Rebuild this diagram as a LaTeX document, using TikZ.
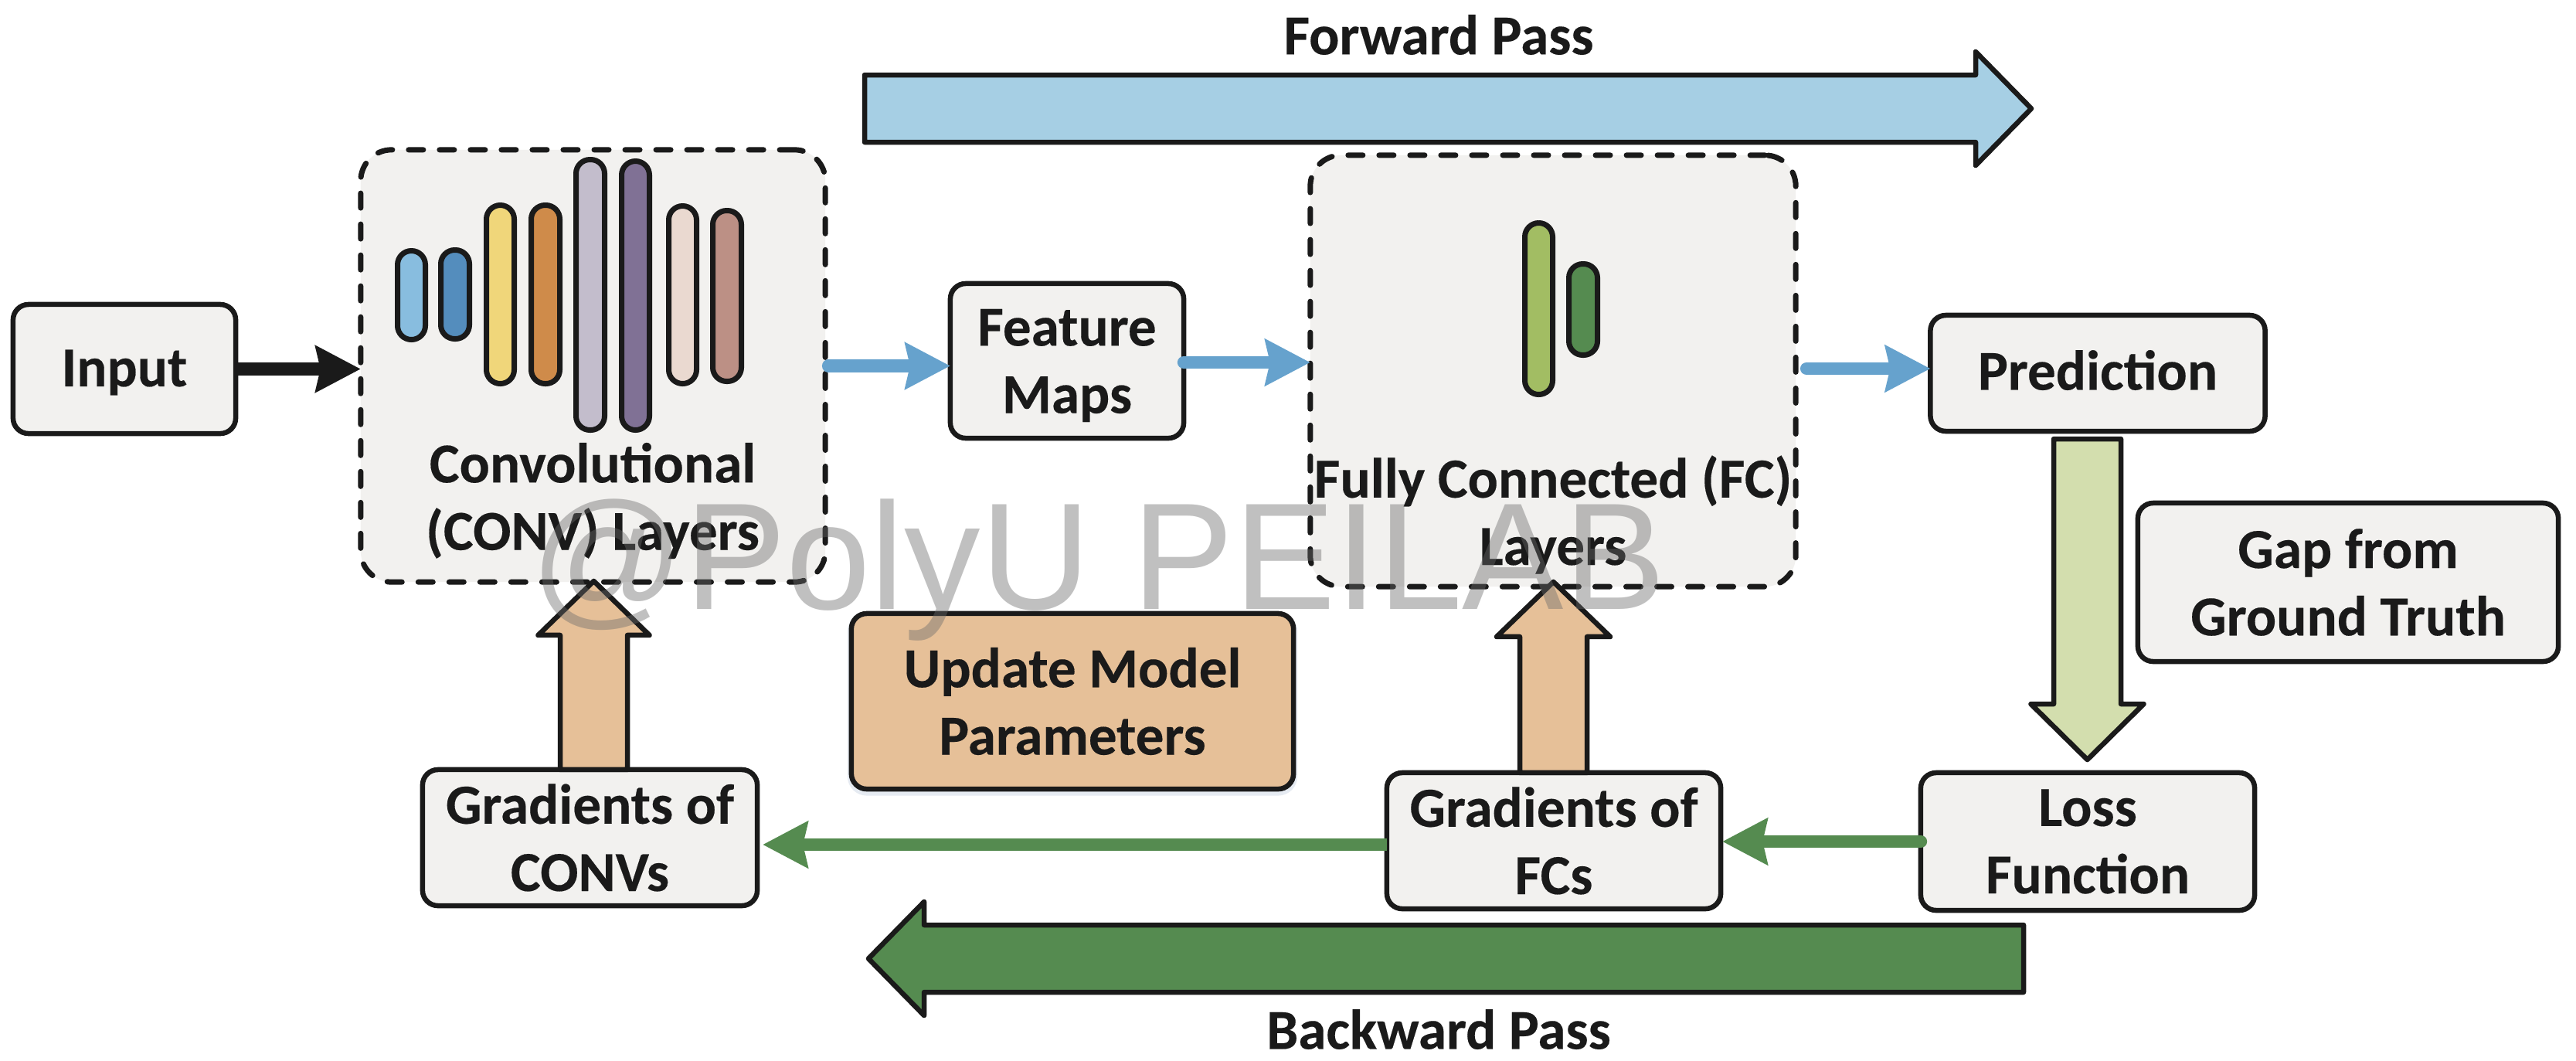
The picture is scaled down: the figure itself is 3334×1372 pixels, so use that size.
\documentclass[tikz,border=0pt]{standalone}
\usepackage{fontspec}
\setmainfont{Carlito}[BoldFeatures={FakeBold=0.25}]
\newfontfamily\wmfont{Liberation Sans}
\usetikzlibrary{arrows.meta,calc}
\definecolor{ink}{HTML}{1A1A1A}
\definecolor{boxbg}{HTML}{F2F1EF}
\definecolor{flowblue}{HTML}{66A2CD}
\definecolor{flowgreen}{HTML}{558B50}
\definecolor{tanfill}{HTML}{E6C098}
\definecolor{skyfill}{HTML}{A6CFE4}
\definecolor{limefill}{HTML}{D3DEAE}
\definecolor{wmgray}{HTML}{6B6B6B}
\definecolor{shadowcol}{HTML}{E6EBF2}
\definecolor{c1}{HTML}{88BDDF}\definecolor{c2}{HTML}{548DBD}\definecolor{c3}{HTML}{F0D67A}\definecolor{c4}{HTML}{CF8B4A}
\definecolor{c5}{HTML}{C3BDCC}\definecolor{c6}{HTML}{807195}\definecolor{c7}{HTML}{EAD9D0}\definecolor{c8}{HTML}{BC9085}
\definecolor{c9}{HTML}{A2BD63}
\tikzset{
  x=0.01cm,y=-0.01cm,
  lbl/.style={font=\fontsize{20.8}{24.8}\selectfont\bfseries,text=ink,align=center,inner sep=0pt},
  plainbox/.style={lbl,draw=ink,fill=boxbg,line width=0.065cm,rounded corners=0.2cm,outer sep=0pt},
  dashbox/.style={draw=ink,fill=boxbg,line width=0.07cm,rounded corners=0.4cm,line cap=round,
    dash pattern=on 0.19cm off 0.21cm,outer sep=0pt,inner sep=0pt},
  pillst/.style={draw=ink,line width=0.07cm,rounded corners=0.18cm,inner sep=0pt,outer sep=0pt},
  thin arrow/.style={line width=0.165cm,line cap=round,
    -{Stealth[length=0.58cm,width=0.59cm,inset=0.06cm]}},
  blockst/.style={draw=ink,line width=0.065cm,line join=round},
}
\newcommand{\pill}[6]{\node[pillst,fill=#6,minimum width={(#4-#2-7)*0.01cm},minimum height={(#5-#3-7)*0.01cm}] (#1) at ({(#2+#4)/2},{(#3+#5)/2}) {};}
\begin{document}
\begin{tikzpicture}
\useasboundingbox (0,0) rectangle (3334,1372);
\fill[white] (0,0) rectangle (3334,1372);

\node[dashbox,minimum width=6.01cm,minimum height=5.59cm] (conv) at (767.5,473.5) {};
\node[dashbox,minimum width=6.28cm,minimum height=5.58cm] (fc) at (2010,480) {};

\pill{p1}{511}{321}{554}{443}{c1}
\pill{p2}{567}{320}{611}{442}{c2}
\pill{p3}{626}{262}{669}{500}{c3}
\pill{p4}{684}{262}{728}{500}{c4}
\pill{p5}{742}{203}{786}{560}{c5}
\pill{p6}{801}{205}{844}{560}{c6}
\pill{p7}{862}{263}{905}{500}{c7}
\pill{p8}{919}{269}{963}{497}{c8}
\pill{g1}{1970}{285}{2013}{514}{c9}
\pill{g2}{2027}{338}{2071}{463}{flowgreen}

\node[lbl] (convtext) at (767,648) {Convolutional\\(CONV) Layers};
\node[lbl] (fctext) at (2010,666) {Fully Connected (FC)\\Layers};

\node[plainbox,minimum width=2.88cm,minimum height=1.67cm] (input) at (161,477.5) {};
\node[lbl] (inputtext) at (161,482) {Input};
\node[plainbox,minimum width=3.02cm,minimum height=2.00cm] (fm) at (1381,467) {};
\node[lbl] (fmtext) at (1381,473) {Feature\\Maps};
\node[plainbox,minimum width=4.33cm,minimum height=1.50cm] (pred) at (2715,483) {};
\node[lbl] (predtext) at (2715,479) {Prediction};
\node[plainbox,minimum width=5.44cm,minimum height=2.05cm] (gap) at (3039,753.5) {Gap from\\Ground Truth};
\node[plainbox,fill=tanfill,minimum width=5.72cm,minimum height=2.27cm,
  preaction={draw=shadowcol,line width=0.1cm,transform canvas={yshift=-0.035cm}}] (update) at (1388,907.5) {Update Model\\Parameters};
\node[plainbox,minimum width=4.33cm,minimum height=1.76cm] (gradc) at (763.5,1084) {Gradients of\\CONVs};
\node[plainbox,minimum width=4.32cm,minimum height=1.76cm] (gradf) at (2011,1088) {Gradients of\\FCs};
\node[plainbox,minimum width=4.32cm,minimum height=1.78cm] (loss) at (2702,1089) {Loss\\Function};

\node[lbl] (fwdtext) at (1862,45) {Forward Pass};
\node[lbl] (bwdtext) at (1862,1332) {Backward Pass};

% thin connectors
\draw[thin arrow,ink,line cap=butt] (input.east) -- (conv.west |- input.east);
\draw[thin arrow,flowblue] ([xshift=0.04cm]conv.east) -- (fm.west |- conv.east);
\draw[thin arrow,flowblue] (fm.east |- 0,469) -- (fc.west |- 0,469);
\draw[thin arrow,flowblue] ([xshift=0.14cm]fc.east |- 0,477) -- (pred.west |- 0,477);
\draw[thin arrow,flowgreen] (loss.west) -- ([xshift=0.02cm]gradf.east |- loss.west);
\draw[thin arrow,flowgreen,line cap=butt] (gradf.west |- 0,1093) -- ([xshift=0.07cm]gradc.east |- 0,1093);

% block arrows
\coordinate (upc) at ($(gradc.north)+(5,0)$);
\draw[blockst,fill=tanfill] (upc) ++(-43.5,0) -- ++(0,-174) -- ++(-28.5,0) -- ++(72,-70) -- ++(72,70) -- ++(-28.5,0) -- ++(0,174) -- cycle;
\coordinate (upf) at ($(gradf.north)+(-0.5,0)$);
\draw[blockst,fill=tanfill] (upf) ++(-43.5,0) -- ++(0,-176) -- ++(-30,0) -- ++(73.5,-71) -- ++(73.5,71) -- ++(-30,0) -- ++(0,176) -- cycle;
\coordinate (dn) at ($(pred.south)+(-13.5,10)$);
\draw[blockst,fill=limefill] (dn) ++(-43.5,0) -- ++(0,343) -- ++(-29.5,0) -- ++(73,72) -- ++(73,-72) -- ++(-29.5,0) -- ++(0,-343) -- cycle;
\coordinate (fwdstart) at (1119,140.5);
\draw[blockst,fill=skyfill] (fwdstart) ++(0,-43.5) -- ++(1438,0) -- ++(0,-30) -- ++(72,73.5) -- ++(-72,73.5) -- ++(0,-30) -- ++(-1438,0) -- cycle;
\coordinate (bwdstart) at (2619,1240.5);
\draw[blockst,fill=flowgreen] (bwdstart) ++(0,-43.5) -- ++(-1423,0) -- ++(0,-30) -- ++(-72,73.5) -- ++(72,73.5) -- ++(0,-30) -- ++(1423,0) -- cycle;

% watermark
\node[anchor=base,inner sep=0pt,text=wmgray,text opacity=0.42,font=\wmfont\fontsize{56}{60}\selectfont] (wm) at (1421,788) {@PolyU PEILAB};
\end{tikzpicture}
\end{document}
